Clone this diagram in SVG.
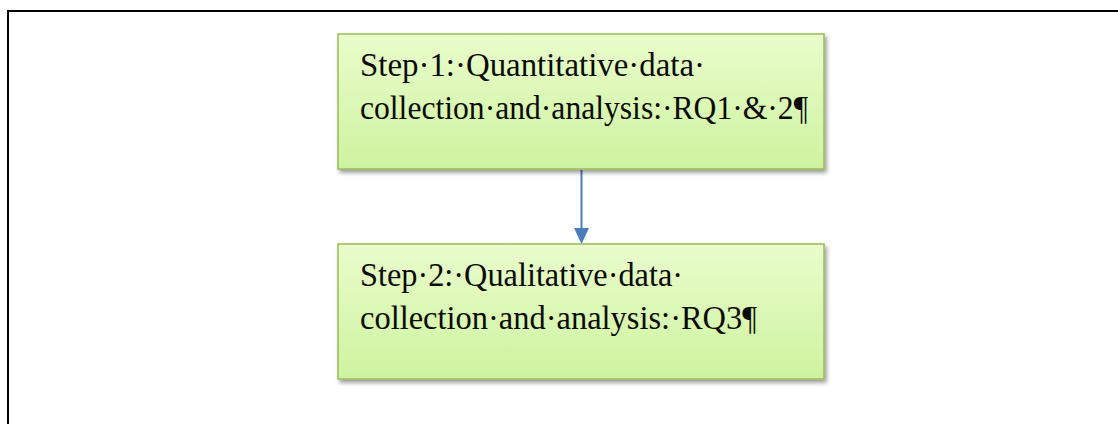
<svg xmlns="http://www.w3.org/2000/svg" width="1118" height="424" viewBox="0 0 1118 424">
  <style>
    .box { fill: url(#boxFill); stroke: #9bbb59; stroke-width: 1.5; filter: url(#shadow); }
    .label { font-family: "Liberation Serif", "DejaVu Serif", serif; font-size: 33px; fill: #0a0a0a; }
    .link { stroke: #4a7ebb; stroke-width: 2; fill: none; }
  </style>
  <defs>
    <linearGradient id="boxFill" x1="0" y1="0" x2="0" y2="1">
      <stop offset="0" stop-color="#eafdcc"/>
      <stop offset="1" stop-color="#cdf39f"/>
    </linearGradient>
    <filter id="shadow" x="-5%" y="-10%" width="115%" height="130%">
      <feGaussianBlur in="SourceAlpha" stdDeviation="2"/>
      <feOffset dx="2" dy="3" result="blur"/>
      <feComponentTransfer><feFuncA type="linear" slope="0.4"/></feComponentTransfer>
      <feMerge><feMergeNode/><feMergeNode in="SourceGraphic"/></feMerge>
    </filter>
  </defs>

  <rect width="1118" height="424" fill="#ffffff"/>
  <!-- outer frame, open on the right and bottom -->
  <path d="M8,430 V11 H1125" fill="none" stroke="#000000" stroke-width="2"/>

  <g id="connectors">
    <line class="link" x1="581.5" y1="170" x2="581.5" y2="229"/>
    <path d="M574,228 L589,228 L581.5,244 z" fill="#4a7ebb"/>
  </g>

  <g id="step1">
    <rect class="box" x="338" y="34" width="486" height="135"/>
    <text class="label" x="360" y="76" textLength="345" lengthAdjust="spacingAndGlyphs">Step·1:·Quantitative·data·</text>
    <text class="label" x="360" y="119" textLength="448" lengthAdjust="spacingAndGlyphs">collection·and·analysis:·RQ1·&amp;·2¶</text>
  </g>

  <g id="step2">
    <rect class="box" x="338" y="244" width="486" height="135"/>
    <text class="label" x="360" y="286" textLength="323" lengthAdjust="spacingAndGlyphs">Step·2:·Qualitative·data·</text>
    <text class="label" x="360" y="329" textLength="397" lengthAdjust="spacingAndGlyphs">collection·and·analysis:·RQ3¶</text>
  </g>
</svg>
